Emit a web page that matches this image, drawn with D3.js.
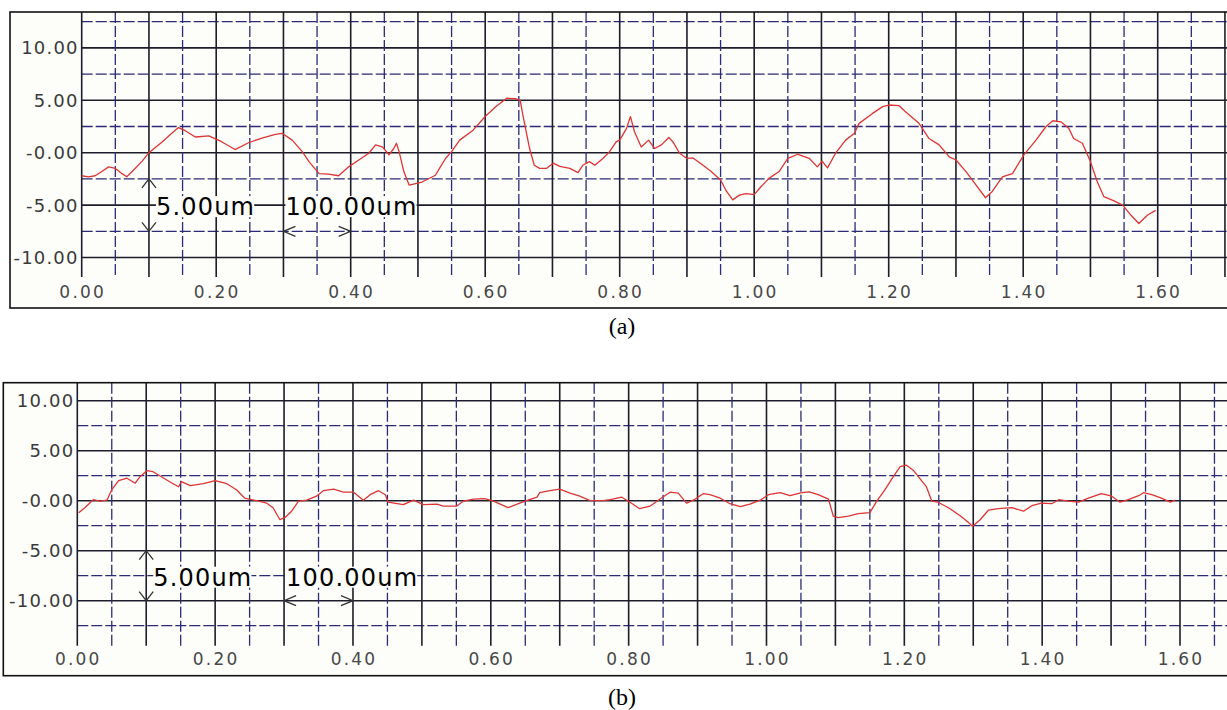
<!DOCTYPE html>
<html>
<head>
<meta charset="utf-8">
<script src="https://cdn.jsdelivr.net/npm/d3@7"></script>
<style>
  body { margin: 0; background: #fff; }
  svg { display: block; }
</style>
</head>
<body>
<div id="container"></div>
<script>
// surface profile (a): position (mm) and height (um)
const profileA_x = [0, 0.01, 0.02, 0.03, 0.04, 0.05, 0.06, 0.067, 0.075, 0.09, 0.10, 0.12, 0.134, 0.144, 0.154, 0.169, 0.189, 0.208, 0.228, 0.248,
  0.268, 0.288, 0.298, 0.313, 0.328, 0.338, 0.353, 0.367, 0.382, 0.397, 0.412, 0.427, 0.437, 0.447, 0.457, 0.464, 0.468, 0.472, 0.479, 0.487,
  0.506, 0.526, 0.532, 0.541, 0.55, 0.562, 0.582, 0.60, 0.616, 0.632, 0.645, 0.652, 0.656, 0.666, 0.673, 0.681, 0.691, 0.701, 0.711, 0.726,
  0.738, 0.745, 0.755, 0.763, 0.775, 0.785, 0.795, 0.80, 0.81, 0.816, 0.822, 0.832, 0.843, 0.852, 0.862, 0.873, 0.879, 0.889, 0.90, 0.909,
  0.924, 0.936, 0.95, 0.959, 0.968, 0.978, 0.988, 1.0, 1.01, 1.022, 1.037, 1.05, 1.065, 1.082, 1.094, 1.101, 1.109, 1.121, 1.136, 1.149,
  1.156, 1.176, 1.191, 1.20, 1.215, 1.225, 1.245, 1.26, 1.275, 1.29, 1.30, 1.315, 1.33, 1.344, 1.354, 1.369, 1.384, 1.401, 1.419, 1.434,
  1.444, 1.456, 1.468, 1.475, 1.488, 1.50, 1.51, 1.52, 1.535, 1.548, 1.56, 1.572, 1.585, 1.597];
const profileA_y = [-2.2, -2.3, -2.2, -1.8, -1.35, -1.5, -2.0, -2.3, -1.8, -0.8, 0, 1.05, 1.85, 2.4, 2.1, 1.5, 1.6, 1.05, 0.3, 0.95,
  1.4, 1.75, 1.85, 1.2, 0.1, -0.85, -2.0, -2.05, -2.2, -1.35, -0.7, -0.05, 0.75, 0.55, -0.2, 0.4, 0.9, 0.1, -1.8, -3.1,
  -2.8, -2.15, -1.5, -0.55, 0.1, 1.2, 2.15, 3.45, 4.4, 5.2, 5.15, 5.0, 3.6, 0.4, -1.2, -1.5, -1.5, -1.0, -1.3, -1.5,
  -1.9, -1.2, -0.85, -1.2, -0.55, 0.1, 1.05, 1.2, 2.3, 3.45, 2.0, 0.55, 1.2, 0.4, 0.75, 1.45, 1.05, -0.05, -0.55, -0.5,
  -1.2, -1.8, -2.6, -3.7, -4.5, -4.05, -3.9, -4.0, -3.25, -2.45, -1.8, -0.55, -0.15, -0.55, -1.35, -0.8, -1.45, -0.05, 1.2, 1.85,
  2.8, 3.75, 4.4, 4.55, 4.5, 3.9, 2.8, 1.35, 0.75, -0.4, -0.7, -1.8, -3.1, -4.3, -3.7, -2.3, -2.0, -0.2, 1.2, 2.5,
  3.05, 2.95, 2.3, 1.35, 0.9, -0.85, -2.75, -4.2, -4.6, -5.0, -5.95, -6.75, -5.95, -5.5];

// surface profile (b)
const profileB_x = [0.002, 0.011, 0.023, 0.033, 0.043, 0.05, 0.06, 0.072, 0.084, 0.091, 0.101, 0.11, 0.122, 0.134, 0.147, 0.151, 0.164, 0.183, 0.20, 0.217,
  0.231, 0.243, 0.26, 0.275, 0.284, 0.294, 0.301, 0.311, 0.321, 0.333, 0.347, 0.357, 0.372, 0.386, 0.401, 0.415, 0.425, 0.437, 0.447, 0.451,
  0.473, 0.488, 0.502, 0.522, 0.531, 0.541, 0.55, 0.56, 0.575, 0.591, 0.604, 0.625, 0.642, 0.654, 0.667, 0.671, 0.686, 0.70, 0.715, 0.729,
  0.744, 0.763, 0.773, 0.79, 0.802, 0.816, 0.831, 0.845, 0.86, 0.872, 0.884, 0.894, 0.908, 0.918, 0.933, 0.947, 0.962, 0.976, 0.991, 1.003,
  1.02, 1.034, 1.051, 1.062, 1.075, 1.09, 1.097, 1.104, 1.119, 1.133, 1.15, 1.16, 1.172, 1.184, 1.194, 1.203, 1.213, 1.222, 1.232, 1.24,
  1.249, 1.264, 1.281, 1.291, 1.299, 1.31, 1.322, 1.336, 1.356, 1.373, 1.385, 1.399, 1.414, 1.424, 1.438, 1.453, 1.467, 1.486, 1.501, 1.513,
  1.525, 1.54, 1.547, 1.559, 1.573, 1.586, 1.593];
const profileB_y = [-1.2, -0.7, 0.1, -0.05, 0.05, 1.1, 2.0, 2.25, 1.75, 2.4, 3.0, 2.9, 2.4, 1.9, 1.4, 1.9, 1.5, 1.7, 2.0, 1.7,
  1.1, 0.25, 0.0, -0.25, -0.7, -1.9, -1.7, -1.05, -0.05, 0.05, 0.45, 1.0, 1.15, 0.85, 0.85, 0.05, 0.6, 1.0, 0.6, -0.15,
  -0.4, 0.05, -0.4, -0.35, -0.55, -0.55, -0.55, -0.05, 0.15, 0.2, -0.05, -0.7, -0.25, 0.05, 0.35, 0.8, 1.0, 1.15, 0.75, 0.45,
  0.0, 0.0, 0.1, 0.35, -0.15, -0.8, -0.55, 0.15, 0.85, 0.75, -0.25, 0.05, 0.7, 0.6, 0.25, -0.3, -0.6, -0.35, 0.05, 0.6,
  0.8, 0.5, 0.8, 0.88, 0.6, 0.15, -1.55, -1.7, -1.55, -1.3, -1.2, -0.05, 1.1, 2.4, 3.4, 3.55, 3.05, 2.25, 1.4, -0.05,
  -0.15, -0.7, -1.5, -2.05, -2.55, -1.9, -0.95, -0.8, -0.7, -1.05, -0.5, -0.25, -0.3, 0.1, -0.05, -0.15, 0.25, 0.7, 0.45, -0.15,
  0.1, 0.5, 0.8, 0.6, 0.25, -0.15, 0.05];

const xTickValues = [0, 0.2, 0.4, 0.6, 0.8, 1.0, 1.2, 1.4, 1.6];
const xTickLabels = ["0.00", "0.20", "0.40", "0.60", "0.80", "1.00", "1.20", "1.40", "1.60"];
const yTickValues = [10, 5, 0, -5, -10];
const yTickLabels = ["10.00", "5.00", "-0.00", "-5.00", "-10.00"];
const scaleBarLabels = ["5.00um", "100.00um"];
const captions = ["(a)", "(b)"];

const W = 1227, H = 710;
const bg = "#fdfdfa";
const solidColor = "#1d1d2b";
const dashColor = "#2b2b78";
const curveColor = "#dc3535";

let svg = d3.select("#container")
  .append("svg")
  .attr("width", W)
  .attr("height", H);

function drawPanel(p, xs, ys, caption) {
  let g = svg.append("g");

  let x = d3.scaleLinear().domain([0, 1.6]).range([p.x0, p.x16]);
  let y = d3.scaleLinear().domain([0, 10]).range([p.y0, p.y10]);

  g.append("rect")
    .attr("x", p.left).attr("y", p.top)
    .attr("width", W + 10 - p.left).attr("height", p.bottom - p.top)
    .attr("fill", bg);

  // horizontal grid, solid every 5, dashed at 2.5 between
  let hVals = d3.range(-15, 15.01, 2.5).filter(v => y(v) > p.top + 2 && y(v) < p.gridBottom);
  g.selectAll(".hgrid").data(hVals).enter()
    .append("line")
    .attr("class", "hgrid")
    .attr("x1", x(0)).attr("x2", W + 10)
    .attr("y1", d => y(d)).attr("y2", d => y(d))
    .attr("stroke", d => Math.round(d / 2.5) % 2 === 0 ? solidColor : dashColor)
    .attr("stroke-width", d => Math.round(d / 2.5) % 2 === 0 ? 1.6 : 1.3)
    .attr("stroke-dasharray", d => Math.round(d / 2.5) % 2 === 0 ? null : "11,3");

  // vertical grid, solid every 0.1, dashed at 0.05 between
  let vVals = d3.range(0, 1.751, 0.05).filter(v => x(v) < W);
  g.selectAll(".vgrid").data(vVals).enter()
    .append("line")
    .attr("class", "vgrid")
    .attr("x1", d => x(d)).attr("x2", d => x(d))
    .attr("y1", p.top).attr("y2", p.gridBottom)
    .attr("stroke", d => Math.round(d / 0.05) % 2 === 0 ? solidColor : dashColor)
    .attr("stroke-width", d => Math.round(d / 0.05) % 2 === 0 ? 1.6 : 1.3)
    .attr("stroke-dasharray", d => Math.round(d / 0.05) % 2 === 0 ? null : "11,3");

  // profile
  let line = d3.line().x(d => x(d[0])).y(d => y(d[1]));
  g.append("path")
    .datum(d3.zip(xs, ys))
    .attr("d", line)
    .attr("fill", "none")
    .attr("stroke", curveColor)
    .attr("stroke-width", 1.3)
    .attr("stroke-linejoin", "round");

  // tick labels
  g.selectAll(".ylab").data(yTickValues).enter()
    .append("text")
    .attr("class", "ylab")
    .text((d, i) => yTickLabels[i])
    .attr("x", x(0) - 3)
    .attr("y", d => y(d) + 6.5)
    .attr("text-anchor", "end")
    .attr("font-family", "DejaVu Sans")
    .attr("font-size", 18)
    .attr("letter-spacing", 1.2)
    .attr("fill", "#3a3a3a");

  g.selectAll(".xlab").data(xTickValues).enter()
    .append("text")
    .attr("class", "xlab")
    .text((d, i) => xTickLabels[i])
    .attr("x", d => x(d) + 1)
    .attr("y", p.labelY)
    .attr("text-anchor", "middle")
    .attr("font-family", "DejaVu Sans")
    .attr("font-size", 17)
    .attr("letter-spacing", 2.2)
    .attr("fill", "#484848");

  // scale bar annotation
  let mid = (y(p.barTop) + y(p.barBottom)) / 2;
  let starts = [x(0.1) + 7, x(0.3) + 2];
  scaleBarLabels.forEach((s, i) => {
    let t = g.append("text")
      .text(s)
      .attr("x", starts[i])
      .attr("y", mid + 10)
      .attr("font-family", "DejaVu Sans")
      .attr("font-size", 24)
      .attr("letter-spacing", 1.2)
      .attr("fill", "#000");
    let b = t.node().getBBox();
    g.insert("rect", function () { return t.node(); })
      .attr("x", b.x).attr("y", mid - 9)
      .attr("width", b.width - 1).attr("height", 21)
      .attr("fill", bg);
  });

  let ax = x(0.1), at = y(p.barTop), ab = y(p.barBottom);
  let arrows = [
    `M${ax - 7},${at + 9}L${ax},${at}L${ax + 7},${at + 9}`,
    `M${ax - 7},${ab - 9}L${ax},${ab}L${ax + 7},${ab - 9}`,
    `M${x(0.3) + 12},${ab - 5}L${x(0.3)},${ab}L${x(0.3) + 12},${ab + 5}`,
    `M${x(0.4) - 12},${ab - 5}L${x(0.4)},${ab}L${x(0.4) - 12},${ab + 5}`
  ];
  g.selectAll(".arrow").data(arrows).enter()
    .append("path")
    .attr("d", d => d)
    .attr("fill", "none")
    .attr("stroke", "#333")
    .attr("stroke-width", 1.3);

  // frame
  g.append("rect")
    .attr("x", p.left).attr("y", p.top)
    .attr("width", W + 10 - p.left).attr("height", p.bottom - p.top)
    .attr("fill", "none")
    .attr("stroke", "#111")
    .attr("stroke-width", 1.6);

  svg.append("text")
    .text(caption)
    .attr("x", 622)
    .attr("y", p.captionY)
    .attr("text-anchor", "middle")
    .attr("font-family", "Liberation Serif, Times New Roman, serif")
    .attr("font-size", 24)
    .attr("fill", "#000");
}

drawPanel({ left: 10, top: 12, bottom: 308, x0: 81.7, x16: 1157.7, y0: 152.7, y10: 47.9,
  gridBottom: 277, labelY: 298, captionY: 334, barTop: -2.5, barBottom: -7.5 },
  profileA_x, profileA_y, captions[0]);

drawPanel({ left: 3.3, top: 382.7, bottom: 675.7, x0: 77.3, x16: 1180, y0: 500.7, y10: 400.7,
  gridBottom: 645.7, labelY: 665, captionY: 705, barTop: -5, barBottom: -10 },
  profileB_x, profileB_y, captions[1]);
</script>
</body>
</html>
